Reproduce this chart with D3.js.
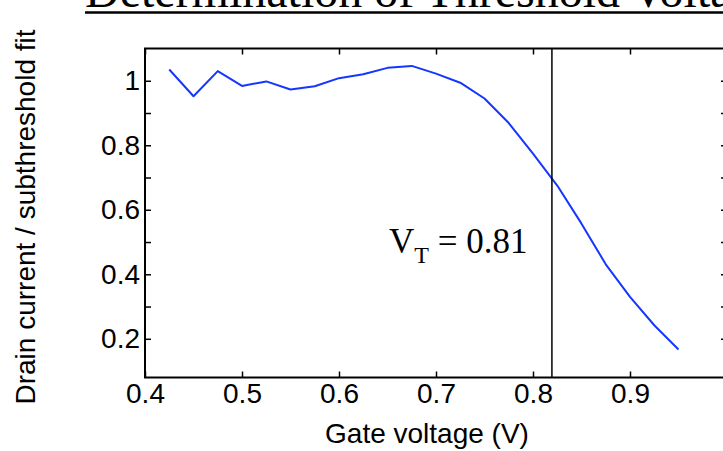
<!DOCTYPE html>
<html>
<head>
<meta charset="utf-8">
<script src="https://cdn.jsdelivr.net/npm/d3@7"></script>
<style>
  html, body { margin: 0; padding: 0; background: #fff; }
  svg { display: block; }
</style>
</head>
<body>
<svg id="chart" width="723" height="451"></svg>
<script>
// ---- data ----
const gateVoltage = [0.425, 0.45, 0.475, 0.5, 0.525, 0.55, 0.575, 0.6, 0.625, 0.65, 0.675,
                     0.7, 0.725, 0.75, 0.775, 0.8, 0.825, 0.85, 0.875, 0.9, 0.925, 0.95];
const ratio = [1.035, 0.952, 1.030, 0.984, 0.998, 0.973, 0.983, 1.008, 1.020, 1.040, 1.046,
               1.022, 0.994, 0.945, 0.869, 0.774, 0.675, 0.557, 0.431, 0.330, 0.242, 0.167];
const thresholdVoltage = 0.8195;
const thresholdLabel = "0.81";
const xTickValues = [0.4, 0.5, 0.6, 0.7, 0.8, 0.9, 1.0];
const xTickLabels = ["0.4", "0.5", "0.6", "0.7", "0.8", "0.9", ""];
const yTickValues = [0.2, 0.3, 0.4, 0.5, 0.6, 0.7, 0.8, 0.9, 1.0];
const yTickLabels = ["0.2", "", "0.4", "", "0.6", "", "0.8", "", "1"];
const titleText = "Determination of Threshold Voltage";
const xTitle = "Gate voltage (V)";
const yTitle = "Drain current / subthreshold fit";

// ---- layout ----
const svg = d3.select("#chart");
const sans = "'Liberation Sans', Arial, Helvetica, sans-serif";
const serif = "'Liberation Serif', 'Times New Roman', serif";
const mLeft = 145, mRight = 727, mTop = 48.5, mBottom = 377.5;

const x = d3.scaleLinear().domain([0.4, 1.0]).range([mLeft, mRight]);
const y = d3.scaleLinear().domain([0.08, 1.1]).range([mBottom, mTop]);

// data line
const line = d3.line().x((d, i) => x(gateVoltage[i])).y(d => y(d));
svg.append("path")
  .datum(ratio)
  .attr("d", line)
  .attr("fill", "none")
  .attr("stroke", "#1536ff")
  .attr("stroke-width", 2)
  .attr("stroke-linejoin", "round");

// threshold vertical line
svg.append("line")
  .attr("x1", x(thresholdVoltage)).attr("x2", x(thresholdVoltage))
  .attr("y1", y(0.08)).attr("y2", y(1.1))
  .attr("stroke", "#000").attr("stroke-width", 1.5);

// axes
function styleAxis(g) {
  g.select(".domain").remove();
  g.selectAll(".tick line").attr("stroke", "#000").attr("stroke-width", 1.5);
  g.selectAll(".tick text").attr("fill", "#000")
    .style("font-family", sans).style("font-size", "28px");
}
const fmtX = (d) => xTickLabels[xTickValues.indexOf(d)];
const fmtY = (d) => yTickLabels[yTickValues.indexOf(d)];

svg.append("g").attr("transform", `translate(0,${mBottom})`)
  .call(d3.axisBottom(x).tickValues(xTickValues).tickFormat(fmtX).tickSize(-6).tickPadding(6))
  .call(styleAxis);
svg.append("g").attr("transform", `translate(0,${mTop})`)
  .call(d3.axisTop(x).tickValues(xTickValues).tickFormat("").tickSize(-6))
  .call(styleAxis);
svg.append("g").attr("transform", `translate(${mLeft},0)`)
  .call(d3.axisLeft(y).tickValues(yTickValues).tickFormat(fmtY).tickSize(-6).tickPadding(5))
  .call(styleAxis);
svg.append("g").attr("transform", `translate(${mRight},0)`)
  .call(d3.axisRight(y).tickValues(yTickValues).tickFormat("").tickSize(-6))
  .call(styleAxis);

// box
svg.append("rect")
  .attr("x", mLeft).attr("y", mTop)
  .attr("width", mRight - mLeft).attr("height", mBottom - mTop)
  .attr("fill", "none").attr("stroke", "#000").attr("stroke-width", 2);

// threshold label
const vt = svg.append("text")
  .attr("x", 389).attr("y", 253)
  .style("font-family", serif).style("font-size", "35px").attr("fill", "#000");
vt.append("tspan").text("V");
vt.append("tspan").attr("dy", 10).style("font-size", "24px").text("T");
vt.append("tspan").attr("dy", -10).text(" = " + thresholdLabel);

// axis titles
svg.append("text")
  .attr("x", 427).attr("y", 443)
  .attr("text-anchor", "middle")
  .style("font-family", sans).style("font-size", "28px").attr("fill", "#000")
  .text(xTitle);

svg.append("text")
  .attr("transform", `translate(35,217) rotate(-90)`)
  .attr("text-anchor", "middle")
  .style("font-family", sans).style("font-size", "28px").attr("fill", "#000")
  .text(yTitle);

// title with underline
const title = svg.append("text")
  .attr("x", 85).attr("y", 7)
  .style("font-family", serif).style("font-size", "48px").attr("fill", "#000")
  .text(titleText);
const tl = title.node().getComputedTextLength();
svg.append("line")
  .attr("x1", 85).attr("x2", 85 + tl)
  .attr("y1", 12.5).attr("y2", 12.5)
  .attr("stroke", "#000").attr("stroke-width", 2.5);
</script>
</body>
</html>
